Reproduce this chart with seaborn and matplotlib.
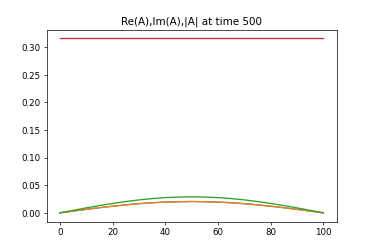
import numpy as np
import pandas as pd
import seaborn as sns
import matplotlib
matplotlib.use('Agg')
import matplotlib.pyplot as plt

# values at every 5 grid points
x = [0, 5, 10, 15, 20, 25, 30, 35, 40, 45, 50, 55, 60, 65, 70, 75, 80, 85, 90, 95, 100]
re_a = [0.0, 0.0032, 0.0063, 0.0093, 0.0120, 0.0145, 0.0166, 0.0183, 0.0195, 0.0202, 0.0205,
        0.0202, 0.0195, 0.0183, 0.0166, 0.0145, 0.0120, 0.0093, 0.0063, 0.0032, 0.0]
im_a = [0.0, 0.0032, 0.0063, 0.0093, 0.0120, 0.0145, 0.0166, 0.0183, 0.0195, 0.0202, 0.0205,
        0.0202, 0.0195, 0.0183, 0.0166, 0.0145, 0.0120, 0.0093, 0.0063, 0.0032, 0.0]
abs_a = [0.0, 0.0045, 0.0090, 0.0132, 0.0170, 0.0205, 0.0235, 0.0258, 0.0276, 0.0286, 0.0290,
         0.0286, 0.0276, 0.0258, 0.0235, 0.0205, 0.0170, 0.0132, 0.0090, 0.0045, 0.0]
norm = [0.3162] * len(x)

df = pd.DataFrame({'x': x, 're': re_a, 'im': im_a, 'abs': abs_a, 'norm': norm})

fig, ax = plt.subplots(figsize=(6, 4), dpi=62.33)
sns.lineplot(data=df, x='x', y='re', color='C0', ax=ax)
sns.lineplot(data=df, x='x', y='im', color='C1', ax=ax)
sns.lineplot(data=df, x='x', y='abs', color='C2', ax=ax)
sns.lineplot(data=df, x='x', y='norm', color='C3', ax=ax)
ax.set_xlabel('')
ax.set_ylabel('')
ax.set_title('Re(A),Im(A),|A| at time 500')
plt.savefig('out.png', dpi=62.33)
